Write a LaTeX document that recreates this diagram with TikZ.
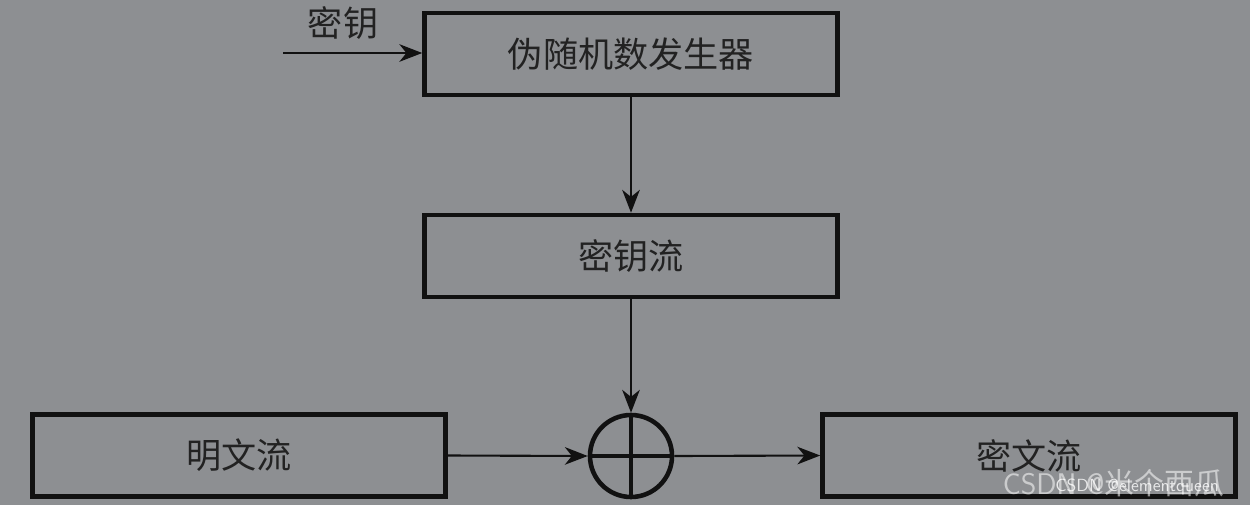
\documentclass[tikz,border=0pt]{standalone}
\usepackage{fontspec}
\newfontfamily\cjk{Noto Sans CJK SC}
\usetikzlibrary{arrows.meta}
\definecolor{bg}{HTML}{8D8F92}
\definecolor{ink}{HTML}{111111}
\definecolor{txt}{HTML}{222222}
\tikzset{
  box/.style={draw=ink, line width=2.6pt, minimum width=8.26cm, minimum height=1.64cm, inner sep=0pt, font=\cjk\fontsize{20}{24}\selectfont, text=txt},
  conn/.style={draw=ink, line width=1.2pt, -{Stealth[length=13pt,width=10pt,inset=4pt]}},
  xorop/.style={circle, draw=ink, line width=2.6pt, minimum size=1.64cm, inner sep=0pt,
    path picture={\draw[ink, line width=2.6pt] (path picture bounding box.north) -- (path picture bounding box.south)
      (path picture bounding box.west) -- (path picture bounding box.east);}},
  lbl/.style={font=\cjk\fontsize{20}{24}\selectfont, text=txt, inner sep=0pt}
}
\begin{document}
\begin{tikzpicture}
\fill[bg] (0,0) rectangle (25,-10.1);
\useasboundingbox (0,0) rectangle (25,-10.1);
\node[box] (prng) at (12.62,-1.08) {伪随机数发生器};
\node[box] (ks) at (12.62,-5.12) {密钥流};
\node[box] (pt) at (4.78,-9.11) {明文流};
\node[box] (ct) at (20.58,-9.11) {密文流};
\node[xorop] (x) at (12.62,-9.12) {};
\coordinate (kin) at (5.66,-1.06);
\node[lbl] (klbl) at (6.86,-0.46) {密钥};
\draw[conn] (kin) -- (kin -| prng.west);
\draw[conn] (prng.south) -- (ks.north);
\draw[conn] (ks.south) -- (x.north);
\draw[conn] (pt.east) -- (x.west);
\draw[conn] (x.east) -- (ct.west);
\node[font=\sffamily\fontsize{17}{20}\selectfont, text=white, opacity=0.55, anchor=west, inner sep=0pt] (wm1) at (20.05,-9.66) {CSDN @\cjk 米个西瓜};
\node[font=\sffamily\fontsize{10}{12}\selectfont, text=white, opacity=0.8, anchor=west, inner sep=0pt] (wm2) at (21.1,-9.74) {CSDN @elementqueen};
\end{tikzpicture}
\end{document}
